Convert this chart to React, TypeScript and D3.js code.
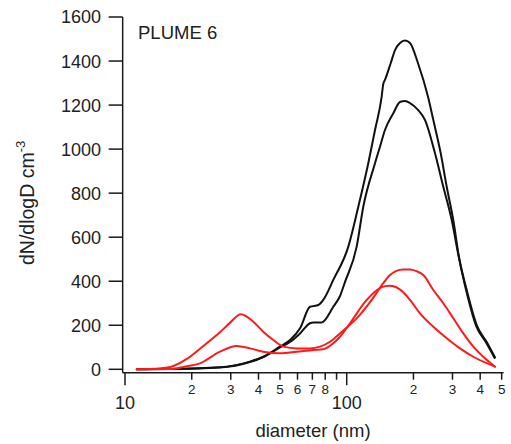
import React from 'react';
import * as d3 from 'd3';

type Pt = [number, number];

// diameter (nm), dN/dlogD (cm^-3)
const blackUpper: Pt[] = [
  [11.3, 0], [16, 1], [26.8, 9], [36.6, 35], [42.1, 57], [50, 103], [55.5, 133], [61.6, 186],
  [68.3, 284], [74.5, 292], [78.4, 315], [87, 406], [101.7, 557], [112.8, 738],
  [125.2, 937], [134.2, 1087], [143.8, 1238], [146.2, 1296], [148.8, 1314], [157.9, 1390],
  [165.2, 1450], [174, 1482], [183.2, 1493], [193, 1482], [209.7, 1390], [232.7, 1238],
  [245.9, 1132], [265.5, 981], [282.6, 829], [302.5, 678], [321, 510], [347.8, 360],
  [385.8, 201], [428, 124], [466.7, 54],
];

const blackLower: Pt[] = [
  [11.3, 0], [16, 1], [26.8, 8], [36.6, 33], [42.1, 56], [50, 99], [55.5, 124], [61.6, 163],
  [68.3, 209], [70.7, 213], [77.1, 213], [87, 284], [93.3, 333], [98.2, 396], [110.9, 557],
  [118.8, 738], [134.2, 936], [141.3, 1011], [148.8, 1087], [162.3, 1163],
  [174, 1214], [183.2, 1218], [193, 1209], [209.7, 1178], [225.6, 1132],
  [250.2, 981], [272.7, 829], [297.6, 678], [321, 505], [347, 352], [384, 196], [426, 120],
  [464.1, 52],
];

const redUpper: Pt[] = [
  [11.3, 0], [13, 1], [16, 10], [19, 47], [22.5, 105], [26.8, 168], [29.8, 212], [33.3, 250],
  [37.9, 216], [42, 171], [46.7, 133], [51.8, 103], [59.5, 95], [68.3, 95], [75.8, 103],
  [84.1, 125], [93.3, 163], [112.8, 239], [129.7, 315], [146.2, 391], [156.8, 428], [166.5, 446],
  [179.5, 453], [193, 453], [206, 446], [221.6, 428], [245.9, 360], [272.7, 300], [302.5, 232],
  [335.7, 163], [372.4, 103], [413.2, 57], [466.7, 12],
];

const redLower: Pt[] = [
  [11.3, 0], [16, 1], [18.7, 13], [21.8, 27], [26.8, 80], [31.9, 106], [36.6, 95], [42, 80],
  [50, 73], [59.5, 80], [70.7, 88], [78.4, 91], [87, 118], [93.3, 148], [103.5, 209],
  [123.1, 315], [143.8, 373], [155.1, 380], [166.5, 374], [179.5, 351], [193, 315], [214.1, 254],
  [245.9, 193], [282.6, 141], [324.4, 95], [372.4, 57], [466.7, 12],
];

const yTicks = [0, 200, 400, 600, 800, 1000, 1200, 1400, 1600];
const xMajorTicks = [10, 100];
const xMinorTicks = [20, 30, 40, 50, 60, 70, 80, 90, 200, 300, 400, 500];
const xMinorLabels = ['2', '3', '4', '5', '6', '7', '8', '', '2', '3', '4', '5'];
const xDomain = [9.76, 510];

const FONT = "'Liberation Sans', Arial, Helvetica, sans-serif";

export default function App() {
  const x = d3.scaleLog().domain([10, 100]).range([125, 346.7]);
  const y = d3.scaleLinear().domain([0, 1600]).range([369.3, 17]);
  const line = d3
    .line<Pt>()
    .x((d) => x(d[0]))
    .y((d) => y(d[1]))
    .curve(d3.curveMonotoneX);

  const axisY = 372.7;
  const axisX = x(xDomain[0]);
  const axisX1 = x(xDomain[1]);
  const axisColor = '#1a1a1a';

  return (
    <svg
      width={511}
      height={444}
      style={{ position: 'absolute', left: 0, top: 0, background: '#fff' }}
      fontFamily={FONT}
    >
      {/* curves */}
      <g fill="none" strokeWidth={2} strokeLinejoin="round" strokeLinecap="round">
        <path d={line(blackUpper) || ''} stroke="#111" />
        <path d={line(blackLower) || ''} stroke="#111" />
        <path d={line(redUpper) || ''} stroke="#ff1a1a" />
        <path d={line(redLower) || ''} stroke="#ff1a1a" />
      </g>

      {/* y axis */}
      <line x1={axisX} x2={axisX} y1={y(1600)} y2={axisY} stroke={axisColor} strokeWidth={1.5} />
      {yTicks.map((t) => (
        <g key={t}>
          <line x1={axisX - 14} x2={axisX} y1={y(t)} y2={y(t)} stroke={axisColor} strokeWidth={1.5} />
          <text x={101} y={y(t)} dy="0.36em" textAnchor="end" fontSize={18} fill="#222">
            {t}
          </text>
        </g>
      ))}

      {/* x axis */}
      <line x1={axisX} x2={axisX1} y1={axisY} y2={axisY} stroke={axisColor} strokeWidth={1.5} />
      {xMajorTicks.map((t) => (
        <g key={t}>
          <line x1={x(t)} x2={x(t)} y1={axisY} y2={axisY + 12.5} stroke={axisColor} strokeWidth={1.5} />
          <text x={x(t)} y={408.5} textAnchor="middle" fontSize={18} fill="#222">
            {t}
          </text>
        </g>
      ))}
      {xMinorTicks.map((t, i) => (
        <g key={t}>
          <line x1={x(t)} x2={x(t)} y1={axisY} y2={axisY + 7} stroke={axisColor} strokeWidth={1.5} />
          {xMinorLabels[i] && (
            <text x={x(t)} y={393.5} textAnchor="middle" fontSize={13.5} fill="#222">
              {xMinorLabels[i]}
            </text>
          )}
        </g>
      ))}

      {/* axis titles */}
      <text x={313} y={437} textAnchor="middle" fontSize={18.5} fill="#222">
        diameter (nm)
      </text>
      <text transform="translate(34,265) rotate(-90)" fontSize={19.5} fill="#222">
        dN/dlogD cm
        <tspan fontSize={13} dy={-9}>-3</tspan>
      </text>

      <text x={138} y={39} fontSize={18.5} fill="#222">
        PLUME 6
      </text>
    </svg>
  );
}
